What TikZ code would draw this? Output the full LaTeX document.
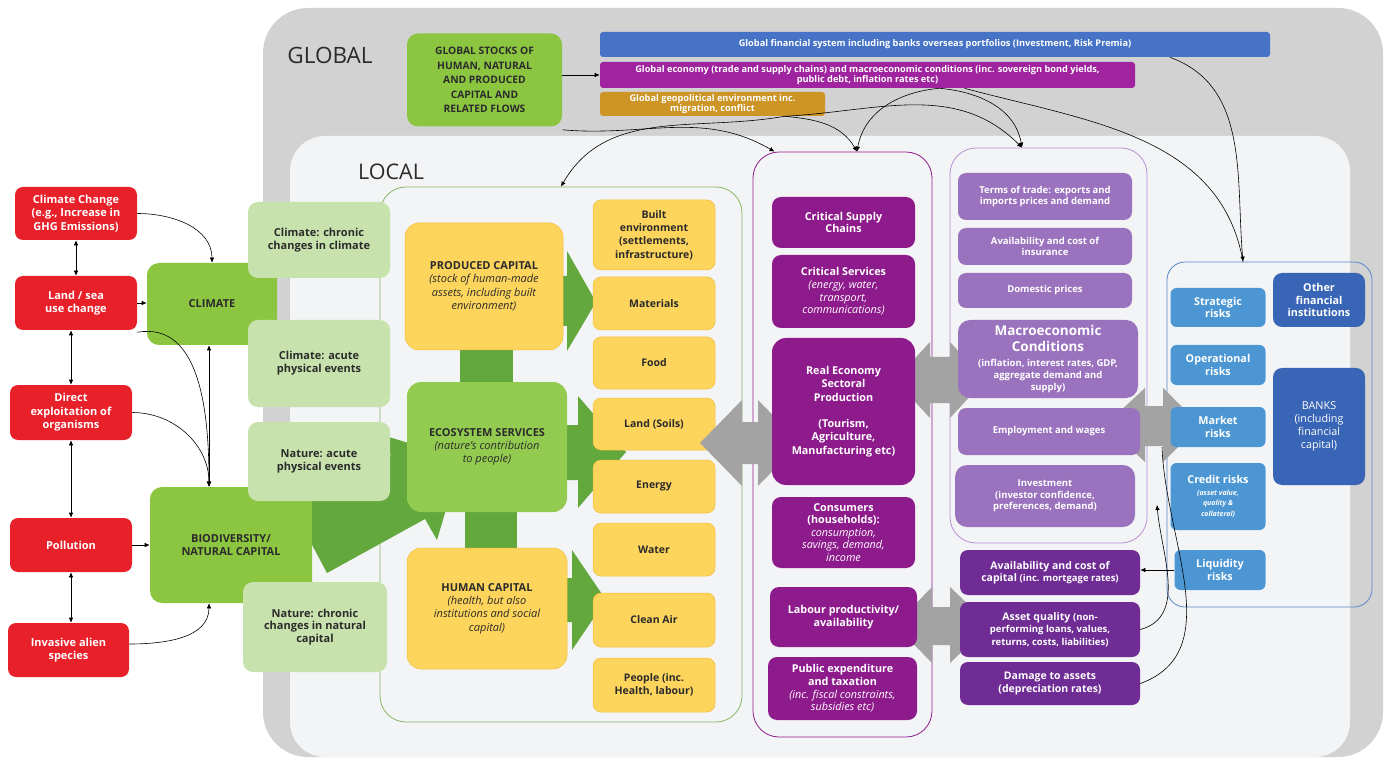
\documentclass[tikz,border=0pt]{standalone}
\usepackage{fontspec}
\setmainfont{Open Sans}
\usetikzlibrary{arrows.meta,positioning}

\definecolor{bggray}{HTML}{D2D2D2}
\definecolor{bglocal}{HTML}{F3F4F6}
\definecolor{drvred}{HTML}{E8202A}
\definecolor{capgreen}{HTML}{8CC641}
\definecolor{ecogreen}{HTML}{92CB4F}
\definecolor{arrgreen}{HTML}{62A83D}
\definecolor{impgreen}{HTML}{C7E2AD}
\definecolor{capyellow}{HTML}{FDD45C}
\definecolor{yelline}{HTML}{F2BF3C}
\definecolor{secpurple}{HTML}{8E1B8C}
\definecolor{macpurple}{HTML}{9A72BE}
\definecolor{macframe}{HTML}{B88FD6}
\definecolor{finviolet}{HTML}{6E2C94}
\definecolor{riskblue}{HTML}{4C97D3}
\definecolor{bankblue}{HTML}{3865B5}
\definecolor{gfsblue}{HTML}{4673C6}
\definecolor{gecpurple}{HTML}{A0239F}
\definecolor{geogold}{HTML}{CC9525}
\definecolor{arrgray}{HTML}{A3A3A3}
\definecolor{frmgreen}{HTML}{86B665}
\definecolor{frmblue}{HTML}{5A88CC}
\definecolor{txtdark}{HTML}{2B2B2B}

\newcommand{\subtxt}[1]{{\mdseries\itshape #1}}
\newcommand{\smtxt}[1]{{\fontsize{9.5}{11}\selectfont #1}}
\newcommand{\bigtxt}[1]{{\fontsize{13.5}{15}\selectfont #1}}
\newcommand{\tinytxt}[1]{{\fontsize{7}{9}\selectfont\itshape #1}}

\begin{document}
\begin{tikzpicture}[x=1pt, y=-1pt, >={Latex[length=5pt,width=4.5pt]}, line width=0.6pt,
    every node/.style={align=center, inner sep=1pt},
    sz/.style 2 args={minimum width=#1, minimum height=#2},
    lbl/.style={font=\bfseries\fontsize{10.8}{12.6}\selectfont},
    drv/.style={lbl, fill=drvred, text=white, rounded corners=8pt, font=\bfseries\fontsize{11}{13.6}\selectfont},
    capg/.style={lbl, fill=capgreen, text=txtdark, rounded corners=12pt, font=\bfseries\fontsize{11}{13}\selectfont},
    imp/.style={lbl, fill=impgreen, text=txtdark, rounded corners=10pt, font=\bfseries\fontsize{11}{12.8}\selectfont},
    yelbig/.style={lbl, fill=capyellow, draw=yelline, line width=0.5pt, text=txtdark, rounded corners=14pt, font=\bfseries\fontsize{11}{13.3}\selectfont},
    yel/.style={lbl, fill=capyellow, draw=yelline, line width=0.5pt, text=txtdark, rounded corners=8pt, font=\bfseries\fontsize{10.5}{13.3}\selectfont},
    sec/.style={lbl, fill=secpurple, text=white, rounded corners=9pt},
    mac/.style={fill=macpurple, text=white, rounded corners=8pt, font=\bfseries\fontsize{9.5}{11.7}\selectfont},
    fin/.style={fill=finviolet, text=white, rounded corners=8pt, font=\bfseries\fontsize{10.5}{12.5}\selectfont},
    risk/.style={lbl, fill=riskblue, text=white, rounded corners=6pt},
    bank/.style={lbl, fill=bankblue, text=white, rounded corners=9pt},
    bar/.style={text=white, rounded corners=3pt, font=\bfseries\fontsize{9.2}{10.5}\selectfont},
    frame/.style={line width=0.8pt, rounded corners=26pt},
    grayarr/.style={fill=arrgray},
    link/.style={->, black}]

\useasboundingbox (0,0) rectangle (1390,759);
\fill[white] (0,0) rectangle (1390,759);

% global and local panels
\fill[bggray, rounded corners=45pt] (263,8) rectangle (1383,757);
\fill[bglocal, rounded corners=35pt] (290,136) rectangle (1350,757);
\node[text=txtdark, font=\fontsize{22.5}{26}\selectfont] (glob) at (330,55) {GLOBAL};
\node[text=txtdark, font=\fontsize{21.5}{26}\selectfont] (loc) at (391,172) {LOCAL};

% frames
\node[frame, draw=frmgreen, sz={362}{535}] (ecoframe) at (561,454.5) {};
\node[frame, draw=secpurple, sz={179}{585}] (pframe) at (842.5,444.5) {};
\node[frame, draw=macframe, sz={197}{395}] (lpframe) at (1048.5,345.5) {};
\node[frame, draw=frmblue, rounded corners=18pt, sz={205}{345}] (bframe) at (1269.5,434.5) {};

% big arrow biodiversity -> ecosystem services
\fill[arrgreen] (293,509) -- (391,455) -- (379,434) -- (461,459) -- (437,540) -- (425,519) -- (327,573) -- cycle;

% green arrows to the stocks
\fill[arrgreen] (460,345) rectangle (513,387);
\fill[arrgreen] (465,507) rectangle (517,553);
\fill[arrgreen] (555,276) -- (567,276) -- (567,251) -- (596,302) -- (567,351) -- (567,326) -- (555,326) -- cycle;
\fill[arrgreen] (560,425) -- (578,425) -- (578,396) -- (626,452) -- (578,508) -- (578,480) -- (560,480) -- cycle;
\fill[arrgreen] (560,578) -- (572,578) -- (572,550) -- (606,600) -- (572,650) -- (572,622) -- (560,622) -- cycle;

% drivers
\node[drv, sz={122}{53}] (cc) at (76,213.5) {Climate Change\\(e.g., Increase in\\GHG Emissions)};
\node[drv, sz={122}{54}] (lsu) at (76,303) {Land / sea\\use change};
\node[drv, sz={122}{55}] (deo) at (71,412.5) {Direct\\exploitation of\\organisms};
\node[drv, sz={122}{54}] (pol) at (71,545) {Pollution};
\node[drv, sz={121}{54}] (ias) at (68.5,650) {Invasive alien\\species};

\node[capg, sz={130}{82}] (clim) at (212,304) {CLIMATE};
\node[capg, sz={162}{116}] (biod) at (231,545) {BIODIVERSITY/\\NATURAL CAPITAL};

\node[imp, sz={142}{76}] (ccl) at (319,240) {Climate: chronic\\changes in climate};
\node[imp, sz={142}{87}] (acl) at (319,363.5) {Climate: acute\\physical events};
\node[imp, sz={142}{79}] (nac) at (319,461.5) {Nature: acute\\physical events};
\node[imp, sz={144}{90}] (nch) at (315,627) {Nature: chronic\\changes in natural\\capital};

% capitals
\node[yelbig, sz={158}{127}] (prod) at (484,286.5) {PRODUCED CAPITAL\\\subtxt{(stock of human-made}\\\subtxt{assets, including built}\\\subtxt{environment)}};
\node[capg, fill=ecogreen, rounded corners=14pt, sz={160}{130}, font=\bfseries\fontsize{11}{13.3}\selectfont] (eco) at (487,447) {ECOSYSTEM SERVICES\\\subtxt{(nature's contribution}\\\subtxt{to people)}};
\node[yelbig, sz={160}{121}] (hum) at (487,608.5) {HUMAN CAPITAL\\\subtxt{(health, but also}\\\subtxt{institutions and social}\\\subtxt{capital)}};

\node[yel, sz={122}{70}] (built) at (654,235) {Built\\environment\\(settlements,\\infrastructure)};
\node[yel, sz={122}{53}] (mat) at (654,303.5) {Materials};
\node[yel, sz={122}{52}] (food) at (654,363) {Food};
\node[yel, sz={122}{52}] (land) at (654,424) {Land (Soils)};
\node[yel, sz={122}{53}] (ener) at (654,486.5) {Energy};
\node[yel, sz={122}{53}] (wat) at (654,549.5) {Water};
\node[yel, sz={122}{54}] (air) at (654,620) {Clean Air};
\node[yel, sz={122}{54}] (ppl) at (654,685) {People (inc.\\Health, labour)};

% gray two-way arrows
\fill[grayarr] (700,443) -- (742,400) -- (742,422) -- (758,422) -- (758,400) -- (800,443) -- (758,486) -- (758,464) -- (742,464) -- (742,486) -- cycle;
\fill[grayarr] (895,380) -- (930,342) -- (930,357) -- (950,357) -- (950,342) -- (985,380) -- (950,418) -- (950,403) -- (930,403) -- (930,418) -- cycle;
\fill[grayarr] (895,625) -- (932,587) -- (932,607) -- (950,607) -- (950,587) -- (990,625) -- (950,663) -- (950,645) -- (932,645) -- (932,663) -- cycle;
\fill[grayarr] (1105,425) -- (1145,388) -- (1145,406) -- (1163,406) -- (1163,388) -- (1200,425) -- (1163,462) -- (1163,446) -- (1145,446) -- (1145,462) -- cycle;

% real economy
\node[sec, sz={143}{51}] (csc) at (843.5,222.5) {Critical Supply\\Chains};
\node[sec, sz={143}{73}] (csv) at (843.5,291.5) {Critical Services\\\subtxt{(energy, water,}\\\subtxt{transport,}\\\subtxt{communications)}};
\node[sec, rounded corners=14pt, sz={143}{147}, font=\bfseries\fontsize{10.8}{13.3}\selectfont] (reco) at (843.5,411.5) {Real Economy\\Sectoral\\Production\\[13pt](Tourism,\\Agriculture,\\Manufacturing etc)};
\node[sec, sz={143}{71}] (cons) at (843.5,532.5) {Consumers\\(households):\\\subtxt{consumption,}\\\subtxt{savings, demand,}\\\subtxt{income}};
\node[sec, sz={147}{60}] (lab) at (843.5,617) {Labour productivity/\\availability};
\node[sec, sz={149}{63}] (pub) at (842.5,688.5) {Public expenditure\\and taxation\\\subtxt{(inc. fiscal constraints,}\\\subtxt{subsidies etc)}};

% macroeconomy
\node[mac, sz={174}{47}] (tot) at (1045,196.5) {Terms of trade: exports and\\imports prices and demand};
\node[mac, sz={174}{37}] (ins) at (1045,246.5) {Availability and cost of\\insurance};
\node[mac, sz={174}{35}] (dom) at (1045,290.5) {Domestic prices};
\node[mac, rounded corners=12pt, sz={180}{78}] (mac) at (1048,359) {\bigtxt{Macroeconomic}\\[3.5pt]\bigtxt{Conditions}\\[4pt](inflation, interest rates, GDP,\\aggregate demand and\\supply)};
\node[mac, sz={182}{47}] (emp) at (1049,431.5) {Employment and wages};
\node[mac, rounded corners=12pt, sz={180}{62}] (inv) at (1045,496) {Investment\\(investor confidence,\\preferences, demand)};

\node[fin, sz={180}{45}] (capc) at (1050,572.5) {Availability and cost of\\capital \smtxt{(inc. mortgage rates)}};
\node[fin, sz={180}{55}] (aq) at (1050,629.5) {Asset quality \smtxt{(non-}\\\smtxt{performing loans, values,}\\\smtxt{returns, costs, liabilities)}};
\node[fin, sz={180}{43}] (dmg) at (1050,683.5) {Damage to assets\\(depreciation rates)};

% financial risks
\node[risk, sz={95}{39}] (str) at (1218,307.5) {Strategic\\risks};
\node[risk, sz={95}{40}] (opr) at (1218,365) {Operational\\risks};
\node[risk, sz={95}{40}] (mkt) at (1218,427) {Market\\risks};
\node[risk, sz={95}{67}] (cred) at (1218,496.5) {Credit risks\\[-1pt]\tinytxt{(asset value,}\\[-2pt]\tinytxt{quality \&}\\[-2pt]\tinytxt{collateral)}};
\node[risk, sz={91}{40}] (liq) at (1220,570) {Liquidity\\risks};
\node[bank, sz={92}{54}] (ofi) at (1319,300) {Other\\financial\\institutions};
\node[bank, sz={92}{117}, font=\fontsize{10.8}{13}\selectfont] (bnk) at (1319,426.5) {BANKS\\(including\\financial\\capital)};

% global level
\node[capg, rounded corners=11pt, sz={155}{93}, font=\bfseries\fontsize{10.3}{14.5}\selectfont] (gs) at (484.5,80) {GLOBAL STOCKS OF\\HUMAN, NATURAL\\AND PRODUCED\\CAPITAL AND\\RELATED FLOWS};
\node[bar, fill=gfsblue, sz={670}{25}] (gfs) at (935,44.5) {Global financial system including banks overseas portfolios (Investment, Risk Premia)};
\node[bar, fill=gecpurple, sz={535}{26}] (gec) at (867.5,75) {Global economy (trade and supply chains) and macroeconomic conditions (inc. sovereign bond yields,\\public debt, inflation rates etc)};
\node[bar, fill=geogold, sz={225}{24}] (geo) at (712.5,104) {Global geopolitical environment inc.\\migration, conflict};

% connector ends
\coordinate (bdin) at ([xshift=-22]biod.north);
\coordinate (bdout) at ([xshift=-22]biod.south);
\coordinate (pin1) at ([xshift=-68]pframe.north);
\coordinate (pin2) at ([xshift=14.5]pframe.north);
\coordinate (lpin) at ([xshift=-26.5]lpframe.north);
\coordinate (bin) at ([xshift=-26.5]bframe.north);
\coordinate (geoq) at ([xshift=72]geo.south);
\coordinate (gecq1) at ([xshift=72]gec.south);
\coordinate (gecq2) at ([xshift=97]gec.south);
\coordinate (gfsq) at ([xshift=235]gfs.south);
\coordinate (crin) at (1157,505);
\coordinate (mkin) at (1162,447);

% drivers links
\draw[<->] (cc.south) -- (lsu.north);
\draw[<->] (deo.north) -- (deo.north |- lsu.south);
\draw[<->] (deo.south) -- (pol.north);
\draw[<->] (pol.south) -- (pol.south |- ias.north);
\draw[link] (cc.east) to[out=0,in=90] (clim.north);
\draw[link] (lsu.east) -- (lsu.east -| clim.west);
\draw[link] ([yshift=-2]lsu.south east) to[out=10,in=90] (bdin);
\draw[link] (deo.east) to[out=0,in=90] (bdin);
\draw[<->] (clim.south -| bdin) -- (bdin);
\draw[link] (pol.east) -- (biod.west);
\draw[link] ([yshift=6]ias.east) to[out=0,in=-90] (bdout);

% global links
\draw[link] (gs.east |- gec.west) -- (gec.west);
\draw[link] ([yshift=-3]gs.south east) to[out=-5,in=150] (pin1);
\draw[link] (geoq) to[out=190,in=60] (ecoframe.north);
\draw[link] (geoq) to[out=-5,in=120] (pin2);
\draw[link] (geoq) to[out=3,in=135] (lpin);
\draw[link] (gecq1) to[out=185,in=80] (pin2);
\draw[link] (gecq1) to[out=-5,in=100] (lpin);
\draw (gecq2) to[out=-15,in=100] (bin);
\draw[link] (gfsq) to[out=-20,in=95] (bin);

% finance links
\draw[link] (liq.west) -- (liq.west -| capc.east);
\draw[link] (aq.east) to[out=15,in=-85] (crin);
\draw (dmg.east) to[out=20,in=-88] (mkin);
\end{tikzpicture}
\end{document}
